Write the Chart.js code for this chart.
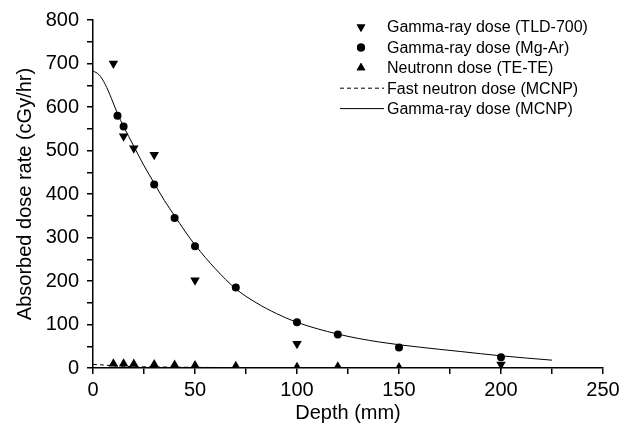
<!DOCTYPE html>
<html>
<head>
<meta charset="utf-8">
<script src="https://cdn.jsdelivr.net/npm/chart.js@4/dist/chart.umd.min.js"></script>
<style>
html,body{margin:0;padding:0;background:#fff;}
#wrap{width:635px;height:440px;position:relative;}
</style>
</head>
<body>
<div id="wrap"><canvas id="c" width="635" height="440"></canvas></div>
<script>
// ---- data ----
const seriesLabels = ["Gamma-ray dose (TLD-700)", "Gamma-ray dose (Mg-Ar)", "Neutronn dose (TE-TE)", "Fast neutron dose (MCNP)", "Gamma-ray dose (MCNP)"];
const tldDepth = [10, 15, 20, 30, 50, 100, 200];
const tldDose  = [700, 533, 505, 490, 202, 56, 8];
const mgDepth = [12, 15, 30, 40, 50, 70, 100, 120, 150, 200];
const mgDose  = [580, 555, 422, 345, 280, 185, 105, 77, 47, 25];
const teDepth = [10, 15, 20, 30, 40, 50, 70, 100, 120, 150];
const teDose  = [10, 10, 9, 8, 7, 6, 4, 2, 3, 1];
const fastDepth = [0, 5, 10, 15, 20, 30, 40, 50, 70, 100, 150, 200, 225];
const fastDose  = [8, 7, 5, 4, 3, 2.5, 2, 1.5, 1, 0.5, 0.3, 0.2, 0.1];
const mcnpDepth = [0, 3, 6, 9, 12, 15, 20, 25, 30, 35, 40, 45, 50, 60, 70, 80, 90, 100, 120, 140, 160, 180, 200, 225];
const mcnpDose  = [683, 674, 652, 620, 585, 555, 510, 465, 425, 385, 350, 315, 283, 228, 182, 150, 125, 105, 78, 60, 48, 38, 28, 18];
const xTickStep = 25, xLabelStep = 50, xMax = 250;
const yTickStep = 50, yLabelStep = 100, yMax = 800;
const xTitle = "Depth (mm)";
const yTitle = "Absorbed dose rate (cGy/hr)";

const pts = (xs, ys) => xs.map((x, i) => ({x: x, y: ys[i]}));
const FONT = "'Liberation Sans', Arial, Helvetica, sans-serif";

const legendPlugin = {
  id: 'customLegend',
  afterDraw(chart) {
    const ctx = chart.ctx;
    const ds = chart.data.datasets;
    const mx = 361, tx = 387, y0 = 27, dy = 20.4;
    ctx.save();
    ctx.font = "16px " + FONT;
    ctx.fillStyle = '#000';
    ctx.textBaseline = 'middle';
    ctx.textAlign = 'left';
    ds.forEach((d, i) => {
      const y = y0 + i * dy;
      if (d.showLine) {
        ctx.save();
        ctx.strokeStyle = '#000';
        ctx.lineWidth = 1;
        ctx.setLineDash(d.borderDash || []);
        ctx.beginPath();
        ctx.moveTo(340, y);
        ctx.lineTo(384, y);
        ctx.stroke();
        ctx.restore();
      } else {
        Chart.helpers.drawPoint(ctx, {
          pointStyle: d.pointStyle, rotation: d.rotation || 0,
          radius: Math.min(d.pointRadius, 5), borderWidth: 0
        }, mx, y);
        ctx.fill();
      }
      ctx.fillText(d.label, tx, y + 1);
    });
    ctx.restore();
  }
};

new Chart(document.getElementById('c'), {
  type: 'scatter',
  data: {
    datasets: [
      { label: seriesLabels[0], data: pts(tldDepth, tldDose), pointStyle: 'triangle', rotation: 180,
        pointRadius: 5.5, backgroundColor: '#000', borderColor: '#000', borderWidth: 0, showLine: false, clip: false },
      { label: seriesLabels[1], data: pts(mgDepth, mgDose), pointStyle: 'circle',
        pointRadius: 4, backgroundColor: '#000', borderColor: '#000', borderWidth: 0, showLine: false },
      { label: seriesLabels[2], data: pts(teDepth, teDose), pointStyle: 'triangle',
        pointRadius: 5.5, backgroundColor: '#000', borderColor: '#000', borderWidth: 0, showLine: false },
      { label: seriesLabels[3], data: pts(fastDepth, fastDose), showLine: true, borderDash: [4, 3],
        borderColor: '#000', borderWidth: 1, pointRadius: 0, tension: 0.3, fill: false },
      { label: seriesLabels[4], data: pts(mcnpDepth, mcnpDose), showLine: true,
        borderColor: '#000', borderWidth: 1, pointRadius: 0, tension: 0.4, cubicInterpolationMode: 'monotone', fill: false }
    ]
  },
  options: {
    responsive: false,
    animation: false,
    devicePixelRatio: 1,
    layout: { padding: { top: 16, right: 32, left: 0, bottom: 0 } },
    plugins: { legend: { display: false }, tooltip: { enabled: false } },
    scales: {
      x: {
        type: 'linear', min: 0, max: xMax,
        afterFit(s) { s.height = 72; },
        border: { color: '#000', width: 1.5 },
        grid: { drawOnChartArea: false, drawTicks: true, tickLength: 6, color: '#000', lineWidth: 1.5 },
        ticks: { stepSize: xTickStep, autoSkip: false, maxRotation: 0, padding: 4, color: '#000',
          font: { family: FONT, size: 20 },
          callback: v => (v % xLabelStep === 0 ? String(v) : '') },
        title: { display: true, text: xTitle, color: '#000', font: { family: FONT, size: 20 },
          padding: { top: 0, bottom: 15 } }
      },
      y: {
        type: 'linear', min: 0, max: yMax,
        afterFit(s) { s.width = 93; },
        border: { color: '#000', width: 1.5 },
        grid: { drawOnChartArea: false, drawTicks: true, tickLength: 6, color: '#000', lineWidth: 1.5 },
        ticks: { stepSize: yTickStep, autoSkip: false, padding: 8, color: '#000',
          font: { family: FONT, size: 20 },
          callback: v => (v % yLabelStep === 0 ? String(v) : '') },
        title: { display: true, text: yTitle, color: '#000', font: { family: FONT, size: 20 },
          padding: { top: 13, bottom: 0 } }
      }
    }
  },
  plugins: [legendPlugin]
});
</script>
</body>
</html>
